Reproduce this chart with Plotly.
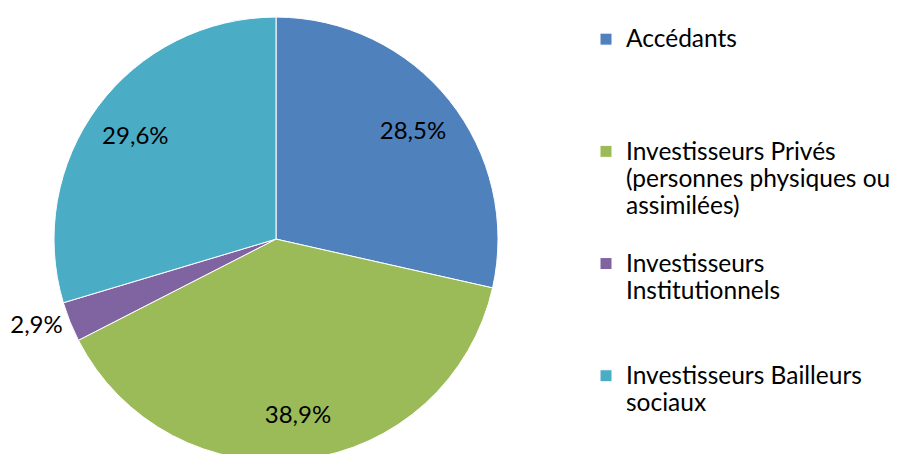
import plotly.graph_objects as go

categories = ["Accédants",
              "Investisseurs Privés<br>(personnes physiques ou<br>assimilées)",
              "Investisseurs<br>Institutionnels",
              "Investisseurs Bailleurs<br>sociaux"]
values = [28.5, 38.9, 2.9, 29.6]
value_labels = ["28,5%", "38,9%", "2,9%", "29,6%"]
label_positions = ["inside", "inside", "outside", "inside"]
colors = ["#4F81BD", "#9BBB59", "#8064A2", "#4BACC6"]
# padding so each legend entry occupies the same vertical slot
pad_lines = [3, 1, 2, 0]

FONT = "Lato, 'Open Sans', sans-serif"
SPAN = "<span style='font-size:24.5px'>"
legend_names = [SPAN + c.replace("<br>", "</span><br>" + SPAN) + "</span>" + "<br> " * p
                for c, p in zip(categories, pad_lines)]

DOMAIN = dict(x=[0, 536 / 898], y=[0.002, 0.980])

# base pie (colours + legend)
fig = go.Figure(go.Pie(
    labels=legend_names,
    values=values,
    textinfo="none",
    sort=False,
    direction="clockwise",
    rotation=0,
    marker=dict(colors=colors, line=dict(color="white", width=1)),
    domain=DOMAIN,
    hoverinfo="skip",
))

# transparent ring carrying the percentage labels further out
fig.add_trace(go.Pie(
    labels=[c + " " for c in categories],
    values=values,
    text=value_labels,
    texttemplate="%{text}",
    textinfo="text",
    textposition=label_positions,
    insidetextorientation="horizontal",
    hole=0.58,
    sort=False,
    direction="clockwise",
    rotation=0,
    marker=dict(colors=["rgba(0,0,0,0)"] * 4, line=dict(width=0)),
    textfont=dict(family=FONT, size=24, color="black"),
    domain=DOMAIN,
    showlegend=False,
    hoverinfo="skip",
))

fig.update_layout(
    width=898, height=454,
    margin=dict(l=0, r=0, t=0, b=0, autoexpand=False),
    paper_bgcolor="white",
    plot_bgcolor="white",
    showlegend=True,
    legend=dict(
        x=578 / 898, y=1 - 11 / 454, xanchor="left", yanchor="top",
        valign="top",
        font=dict(family=FONT, size=21, color="black"),
        bgcolor="rgba(0,0,0,0)",
        itemclick=False, itemdoubleclick=False,
    ),
)

fig.write_html("out.html")
